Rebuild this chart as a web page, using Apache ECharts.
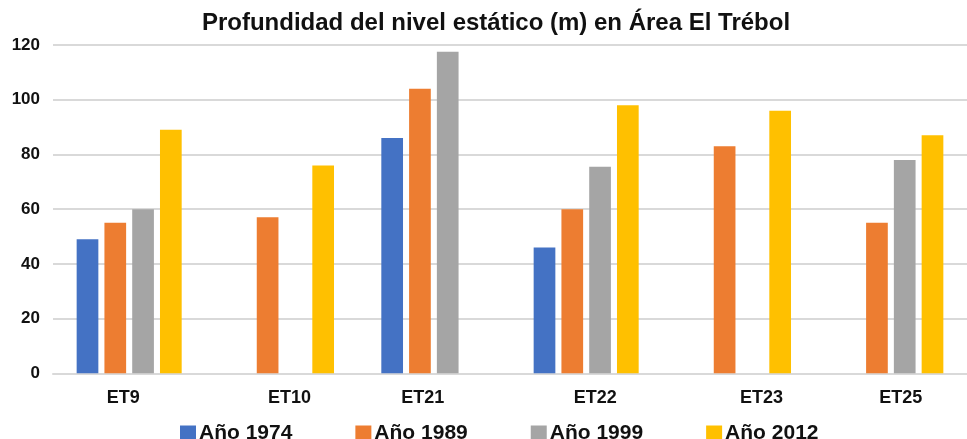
<!DOCTYPE html>
<html>
<head>
<meta charset="utf-8">
<script src="https://cdn.jsdelivr.net/npm/echarts@6/dist/echarts.min.js"></script>
<style>
html,body{margin:0;padding:0;background:#fff;}
#chart{width:967px;height:439px;}
</style>
</head>
<body>
<div id="chart"></div>
<script>
const categories = ['ET9', 'ET10', 'ET21', 'ET22', 'ET23', 'ET25'];
const seriesNames = ['Año 1974', 'Año 1989', 'Año 1999', 'Año 2012'];
const v1974 = [49, null, 86, 46, null, null];
const v1989 = [55, 57, 104, 60, 83, 55];
const v1999 = [60, null, 117.5, 75.5, null, 78];
const v2012 = [89, 76, null, 98, 96, 87];
const yTicks = [0, 20, 40, 60, 80, 100, 120];

const colors = ['#4472C4', '#ED7D31', '#A5A5A5', '#FFC000'];
const labelShift = [-6, 8, -11, 9, 23, 10];
const values = [v1974, v1989, v1999, v2012];

const chart = echarts.init(document.getElementById('chart'), null, {renderer: 'canvas'});
chart.setOption({
  animation: false,
  backgroundColor: '#ffffff',
  title: {
    text: 'Profundidad del nivel estático (m) en Área El Trébol',
    left: 491, textAlign: 'center', top: 6,
    textStyle: {fontFamily: 'Liberation Sans, Arial, sans-serif', fontWeight: 'bold', fontSize: 24, color: '#111'}
  },
  legend: {
    data: seriesNames,
    left: 175, top: 418,
    itemWidth: 16, itemHeight: 16, itemGap: 63,
    icon: 'rect',
    textStyle: {fontFamily: 'Liberation Sans, Arial, sans-serif', fontWeight: 'bold', fontSize: 21, color: '#111', padding: [0, 0, 0, -2]}
  },
  grid: {left: 53, top: 45, width: 928, bottom: 65.7, containLabel: false},
  xAxis: {
    type: 'category',
    data: categories.map((c, i) => ({
      value: c,
      textStyle: {padding: labelShift[i] >= 0 ? [0, 0, 0, 2 * labelShift[i]] : [0, -2 * labelShift[i], 0, 0]}
    })),
    axisLine: {show: true, lineStyle: {color: '#d9d9d9', width: 2}},
    axisTick: {show: false},
    axisLabel: {margin: 16, fontFamily: 'Liberation Sans, Arial, sans-serif', fontWeight: 'bold', fontSize: 18, color: '#111'}
  },
  yAxis: {
    type: 'value', min: yTicks[0], max: yTicks[yTicks.length - 1], interval: 20,
    axisLine: {show: false}, axisTick: {show: false},
    splitLine: {lineStyle: {color: '#d9d9d9', width: 2}},
    axisLabel: {margin: 13, fontFamily: 'Liberation Sans, Arial, sans-serif', fontWeight: 'bold', fontSize: 17, color: '#111'}
  },
  series: seriesNames.map((n, i) => ({
    name: n, type: 'bar', data: values[i],
    barWidth: 21.7, barGap: '28%',
    itemStyle: {color: colors[i]}
  }))
});
</script>
</body>
</html>
